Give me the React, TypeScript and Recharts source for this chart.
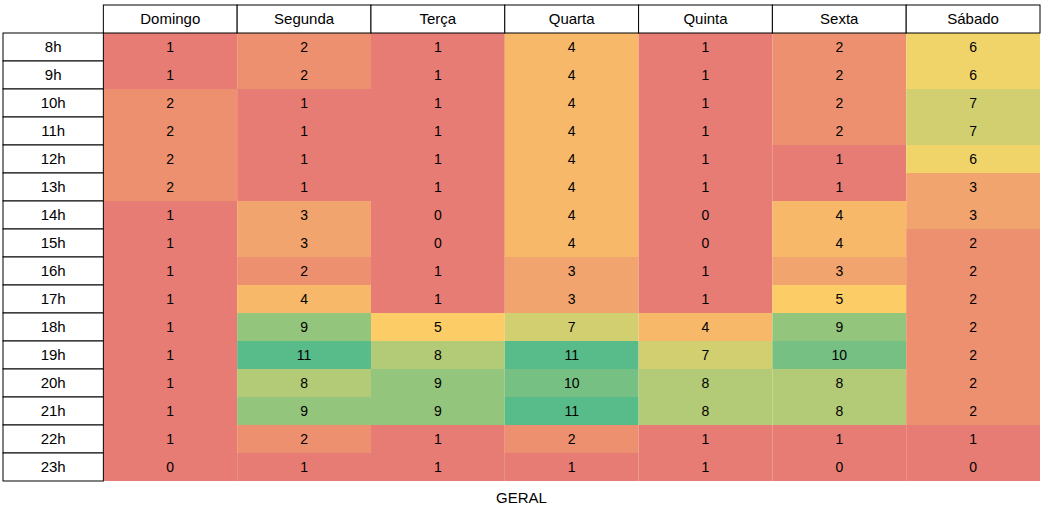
import { ScatterChart, Scatter, XAxis, YAxis } from "recharts";

const days = ["Domingo", "Segunda", "Terça", "Quarta", "Quinta", "Sexta", "Sábado"];
const hours = ["8h", "9h", "10h", "11h", "12h", "13h", "14h", "15h", "16h", "17h", "18h", "19h", "20h", "21h", "22h", "23h"];

const domingo = [1, 1, 2, 2, 2, 2, 1, 1, 1, 1, 1, 1, 1, 1, 1, 0];
const segunda = [2, 2, 1, 1, 1, 1, 3, 3, 2, 4, 9, 11, 8, 9, 2, 1];
const terca = [1, 1, 1, 1, 1, 1, 0, 0, 1, 1, 5, 8, 9, 9, 1, 1];
const quarta = [4, 4, 4, 4, 4, 4, 4, 4, 3, 3, 7, 11, 10, 11, 2, 1];
const quinta = [1, 1, 1, 1, 1, 1, 0, 0, 1, 1, 4, 7, 8, 8, 1, 1];
const sexta = [2, 2, 2, 2, 1, 1, 4, 4, 3, 5, 9, 10, 8, 8, 1, 0];
const sabado = [6, 6, 7, 7, 6, 3, 3, 2, 2, 2, 2, 2, 2, 2, 1, 0];

const columns = [domingo, segunda, terca, quarta, quinta, sexta, sabado];

const W = 1047;
const H = 510;
const M = { top: 5, left: 3, right: 7, bottom: 29 };
const X0 = -0.75;
const unitW = (W - M.left - M.right) / (7 - X0);
const unitH = (H - M.top - M.bottom) / 17;
const font = "Arial, 'Liberation Sans', sans-serif";

const RED = [230, 124, 115];
const YEL = [255, 214, 102];
const GRN = [87, 187, 138];
function color(v: number) {
  const lerp = (a: number[], b: number[], t: number) =>
    `rgb(${a.map((c, i) => Math.round(c + (b[i] - c) * t)).join(",")})`;
  if (v <= 1) return lerp(RED, RED, 0);
  if (v <= 5.5) return lerp(RED, YEL, (v - 1) / 4.5);
  return lerp(YEL, GRN, (v - 5.5) / 5.5);
}

const cells = columns.flatMap((col, c) =>
  col.map((v, r) => ({ x: c + 0.5, y: r + 0.5, v }))
);
const header = days.map((d, c) => ({ x: c + 0.5, y: -0.5, label: d }));
const hourCells = hours.map((h, r) => ({ x: X0 / 2, y: r + 0.5, label: h }));

const labelShape = (w: number) => (p: any) => (
  <g>
    <rect x={p.cx - w / 2} y={p.cy - unitH / 2} width={w} height={unitH} fill="#fff" stroke="#000" strokeWidth={1} />
    <text x={p.cx} y={p.cy + 5} textAnchor="middle" fontSize={15} fontFamily={font} fill="#000">
      {p.payload.label}
    </text>
  </g>
);

const cellShape = (p: any) => (
  <g>
    <rect x={p.cx - unitW / 2} y={p.cy - unitH / 2} width={unitW} height={unitH} fill={color(p.payload.v)} />
    <text x={p.cx} y={p.cy + 5} textAnchor="middle" fontSize={14} fontFamily={font} fill="#000">
      {p.payload.v}
    </text>
  </g>
);

export default function App() {
  return (
    <div style={{ position: "absolute", left: 0, top: 0, background: "#fff" }}>
      <ScatterChart width={W} height={H} margin={M}>
        <XAxis type="number" dataKey="x" domain={[X0, 7]} hide />
        <YAxis type="number" dataKey="y" domain={[-1, 16]} reversed hide />
        <Scatter data={cells} shape={cellShape} isAnimationActive={false} />
        <Scatter data={header} shape={labelShape(unitW)} isAnimationActive={false} />
        <Scatter data={hourCells} shape={labelShape(-X0 * unitW)} isAnimationActive={false} />
        <text x={W / 2 - 2} y={503} textAnchor="middle" fontSize={15} fontFamily={font} fill="#000">
          GERAL
        </text>
      </ScatterChart>
    </div>
  );
}
